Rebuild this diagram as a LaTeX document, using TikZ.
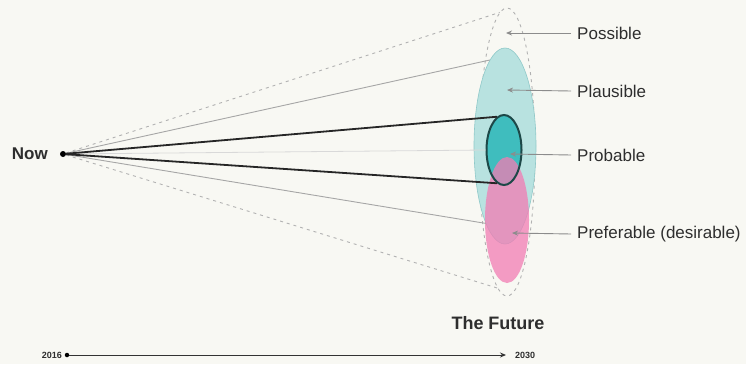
\documentclass[tikz,border=0pt]{standalone}
\usepackage{fontspec}
\setmainfont{Liberation Sans}
\usetikzlibrary{arrows.meta,shapes.geometric}
\definecolor{bg}{HTML}{F8F8F3}
\definecolor{plaus}{HTML}{B8E2E0}
\definecolor{plausedge}{HTML}{8FC9C9}
\definecolor{prob}{HTML}{3FBDBE}
\definecolor{probedge}{HTML}{1D4848}
\definecolor{pref}{HTML}{F27CB3}
\definecolor{txt}{HTML}{2E2E2E}
\begin{document}
\begin{tikzpicture}[x=1pt,y=-1pt,
  lbl/.style={anchor=west, font=\fontsize{17}{19}\selectfont, text=txt, inner sep=0pt},
  ptr/.style={draw=gray!90, line width=0.9pt, -{Stealth[length=6pt,width=5pt]}},
  oval/.style={ellipse, inner sep=0pt},
  dashline/.style={draw=gray!60, line width=0.9pt, dash pattern=on 3pt off 4pt},
  thinline/.style={draw=gray!70, line width=0.9pt},
  thickline/.style={draw=black!85, line width=1.8pt}]
\fill[bg] (0,0) rectangle (746,364);
\useasboundingbox (0,0) rectangle (746,364);

% ellipses
\node[oval, minimum width=56pt, minimum height=288pt, draw=gray!60, line width=0.9pt, dash pattern=on 3pt off 4pt] (possible) at (507,152) {};
\node[oval, minimum width=62pt, minimum height=196pt, fill=plaus, draw=plausedge, line width=0.6pt] (plausible) at (505,146) {};
\node[oval, minimum width=35pt, minimum height=70pt, fill=prob] (probfill) at (504,150) {};
\node[oval, minimum width=44pt, minimum height=126pt, fill=pref, fill opacity=0.75] (preferable) at (507,220) {};
\node[oval, minimum width=35pt, minimum height=70pt, draw=probedge, line width=2pt] (probable) at (504,150) {};

% now
\node[circle, fill=black, inner sep=0pt, minimum size=6pt] (now) at (63,154) {};
\node[anchor=east, font=\fontsize{17}{19}\selectfont\bfseries, text=txt, inner sep=0pt] (nowlbl) at (48,154) {Now};

% cone lines
\draw[draw=gray!30, line width=0.8pt] (now) -- (probable.180);
\draw[dashline] (now) -- (possible.93);
\draw[dashline] (now) -- (possible.266);
\draw[thinline] (now) -- (plausible.100);
\draw[thinline] (now) -- (plausible.256);
\draw[thickline] (now) -- (probable.102);
\draw[thickline] (now) -- (probable.258);

% labels
\node[lbl] (lpossible) at (577,33) {Possible};
\node[lbl] (lplausible) at (577,91) {Plausible};
\node[lbl] (lprobable) at (577,155) {Probable};
\node[lbl] (lpreferable) at (577,234) {Preferable (desirable)};
\coordinate (apossible) at (506,33);
\coordinate (aplausible) at (507,90);
\coordinate (aprobable) at (510,154);
\coordinate (apreferable) at (512,233);
\draw[ptr] ([xshift=-6pt]lpossible.west) -- (apossible);
\draw[ptr] ([xshift=-6pt]lplausible.west) -- (aplausible);
\draw[ptr] ([xshift=-6pt]lprobable.west) -- (aprobable);
\draw[ptr] ([xshift=-6pt]lpreferable.west) -- (apreferable);

% future
\node[font=\fontsize{18}{20}\selectfont\bfseries, text=txt, inner sep=0pt] (future) at (498,323) {The Future};

% timeline
\node[circle, fill=black, inner sep=0pt, minimum size=4.5pt] (t0) at (67,355) {};
\node[anchor=east, font=\fontsize{9}{10}\selectfont\bfseries, text=txt, inner sep=0pt] (y2016) at (62,355) {2016};
\node[anchor=west, font=\fontsize{9}{10}\selectfont\bfseries, text=txt, inner sep=0pt] (y2030) at (515,355) {2030};
\coordinate (t1) at (506,355);
\draw[draw=black!80, line width=0.9pt, -{Stealth[length=6pt,width=5pt]}] (t0) -- (t1);
\end{tikzpicture}
\end{document}
